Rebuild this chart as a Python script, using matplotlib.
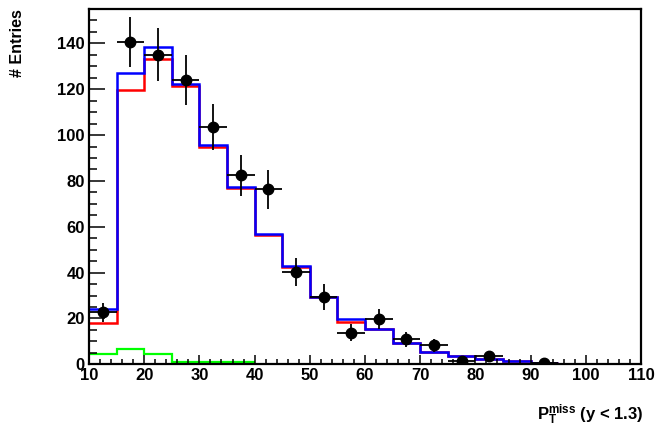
import numpy as np
import matplotlib
matplotlib.use("Agg")
import matplotlib.pyplot as plt
from matplotlib.ticker import MultipleLocator

plt.rcParams['font.family'] = ['Liberation Sans', 'DejaVu Sans']
plt.rcParams['font.weight'] = 'bold'
plt.rcParams['mathtext.fontset'] = 'custom'
plt.rcParams['mathtext.rm'] = 'Liberation Sans:bold'
plt.rcParams['mathtext.it'] = 'Liberation Sans:bold'
plt.rcParams['mathtext.bf'] = 'Liberation Sans:bold'

# Histogram bin edges (GeV)
edges = [10, 15, 20, 25, 30, 35, 40, 45, 50, 55, 60, 65, 70, 75, 80, 85, 90, 95]
blue_vals = [24.1, 126.9, 138.5, 122.2, 95.6, 77.5, 56.7, 42.7, 29.5, 19.6, 15.3, 9.4, 5.5, 3.8, 2.2, 1.6, 0.7]
red_vals = [18.0, 119.6, 133.3, 121.4, 94.9, 76.8, 56.5, 42.5, 29.3, 18.4, 15.2, 9.3, 5.4, 3.7, 2.1, 1.5, 0.6]
green_edges = [10, 15, 20, 25, 30, 35, 40]
green_vals = [4.7, 6.5, 4.4, 0.8, 0.8, 0.8]

# Data points
data_x = [12.5, 17.5, 22.5, 27.5, 32.5, 37.5, 42.5, 47.5, 52.5, 57.5, 62.5, 67.5, 72.5, 77.5, 82.5, 92.5]
data_y = [22.6, 140.7, 135.0, 124.0, 103.6, 82.5, 76.4, 40.3, 29.4, 13.8, 19.7, 11.0, 8.3, 1.6, 3.8, 0.7]
data_yerr = [4.0, 11.0, 11.5, 11.0, 10.0, 9.0, 8.5, 6.0, 5.5, 3.7, 4.4, 3.3, 2.9, 1.2, 1.9, 0.8]
data_xerr = [2.5] * len(data_x)

x_ticks = [10, 20, 30, 40, 50, 60, 70, 80, 90, 100, 110]
y_ticks = [0, 20, 40, 60, 80, 100, 120, 140]

fig = plt.figure(figsize=(6.55, 4.33), dpi=100)
ax = fig.add_axes([89/655, (433-364.3)/433, (641-89)/655, (364.3-9)/433])

ax.stairs(green_vals, green_edges, color='#00ff00', lw=1.6, baseline=None)
ax.stairs(red_vals, edges, color='#ff0000', lw=1.8, baseline=None)
ax.stairs(blue_vals, edges, color='#0000ff', lw=1.8, baseline=None)
ax.errorbar(data_x, data_y, yerr=data_yerr, xerr=data_xerr, fmt='o', color='black',
            ms=7.5, elinewidth=1.3, capsize=0, zorder=5)

ax.set_xlim(10, 110)
ax.set_ylim(0, 155)
ax.set_xticks(x_ticks)
ax.set_yticks(y_ticks)
ax.set_xticklabels([str(t) for t in x_ticks])
ax.set_yticklabels([str(t) for t in y_ticks])
ax.xaxis.set_minor_locator(MultipleLocator(2))
ax.yaxis.set_minor_locator(MultipleLocator(5))

ax.tick_params(axis='x', which='major', direction='in', length=6.5, width=1.1, labelsize=12, pad=2.5)
ax.tick_params(axis='x', which='minor', direction='in', length=3.3, width=1.1)
ax.tick_params(axis='y', which='major', direction='in', length=11.5, width=1.1, labelsize=12, pad=3)
ax.tick_params(axis='y', which='minor', direction='in', length=5.4, width=1.1)
for lab in ax.get_xticklabels() + ax.get_yticklabels():
    lab.set_fontweight('bold')

for s in ax.spines.values():
    s.set_linewidth(1.6)

fig.text(0.027, 0.978, '# Entries', rotation=90, ha='center', va='top', fontsize=11.5, fontweight='bold')
fig.text(643/655, (433-420)/433, r'$\mathregular{P_{T}^{miss}}$ (y < 1.3)', ha='right', va='baseline',
         fontsize=12, fontweight='bold')

fig.savefig('out.png', dpi=100)
